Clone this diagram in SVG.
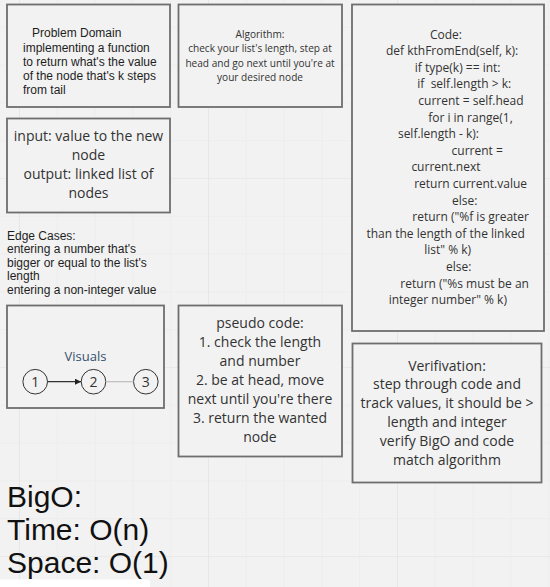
<svg xmlns="http://www.w3.org/2000/svg" width="550" height="587" viewBox="0 0 550 587">
<defs>
<pattern id="minor" x="19" y="-11" width="37.8" height="37.8" patternUnits="userSpaceOnUse">
<path d="M0 0V37.8M0 0H37.8" fill="none" stroke="#e9e9e9" stroke-width="1"/>
</pattern>
<pattern id="major" x="19" y="-11" width="189" height="189" patternUnits="userSpaceOnUse">
<path d="M0 0V189M0 0H189" fill="none" stroke="#e3e3e3" stroke-width="1.2"/>
</pattern>
<marker id="arr" viewBox="0 0 8 8" refX="8" refY="4" markerWidth="6" markerHeight="6" orient="auto" markerUnits="userSpaceOnUse">
<path d="M0 0L8 4L0 8Z" fill="#222"/>
</marker>
<style>
.box{fill:#f2f2f2;stroke:#6e6e6e;stroke-width:1.8}
.ar{font-family:"Liberation Sans",Arial,sans-serif;fill:#1e1e1e}
.os{font-family:"Open Sans","Noto Sans",sans-serif;fill:#333;text-anchor:middle}
.code{font-size:12px}
.big{font-size:14px}
.alg{font-size:10.1px}
.circ{fill:#f2f2f2;stroke:#333;stroke-width:1}
</style>
</defs>
<rect width="550" height="587" fill="#f2f2f2"/>
<rect width="550" height="587" fill="url(#minor)"/>
<rect width="550" height="587" fill="url(#major)"/>

<g id="problem-domain">
<rect class="box" x="7" y="4.5" width="163" height="102.5"/>
<text class="ar" font-size="12"><tspan x="32" y="37">Problem Domain</tspan><tspan x="23" y="51.5">implementing a function</tspan><tspan x="23" y="65.5">to return what's the value</tspan><tspan x="23" y="79.5">of the node that's k steps</tspan><tspan x="23" y="93.5">from tail</tspan></text>
</g>

<g id="algorithm">
<rect class="box" x="178.5" y="4.5" width="163.5" height="102.5"/>
<text class="os alg"><tspan x="260" y="38">Algorithm:</tspan><tspan x="260" y="52.3">check your list's length, step at</tspan><tspan x="260" y="66.6">head and go next until you're at</tspan><tspan x="260" y="80.9">your desired node</tspan></text>
</g>

<g id="code">
<rect class="box" x="352" y="4.5" width="192" height="326.5"/>
<text class="os code">
<tspan x="447.5" y="38.5">Code:</tspan>
<tspan x="453.7" y="55.1">def kthFromEnd(self, k):</tspan>
<tspan x="459.2" y="71.7">if type(k) == int:</tspan>
<tspan x="465.8" y="88.3">if&#160; self.length &gt; k:</tspan>
<tspan x="472.5" y="104.9">current = self.head</tspan>
<tspan x="472" y="121.5">for i in range(1,</tspan>
<tspan x="440" y="138.1">self.length - k):</tspan>
<tspan x="478.8" y="154.7">current =</tspan>
<tspan x="447.5" y="171.3">current.next</tspan>
<tspan x="472.2" y="187.9">return current.value</tspan>
<tspan x="466.2" y="204.5">else:</tspan>
<tspan x="472.2" y="221.1">return ("%f is greater</tspan>
<tspan x="447.2" y="237.7">than the length of the linked</tspan>
<tspan x="449.2" y="254.3">list" % k)</tspan>
<tspan x="460.3" y="270.9">else:</tspan>
<tspan x="466.2" y="287.5">return ("%s must be an</tspan>
<tspan x="447.8" y="304.1">integer number" % k)</tspan>
</text>
</g>

<g id="input-output">
<rect class="box" x="7" y="118.5" width="163" height="94"/>
<text class="os big"><tspan x="88.5" y="141">input: value to the new</tspan><tspan x="88.5" y="159.9">node</tspan><tspan x="88.5" y="178.8">output: linked list of</tspan><tspan x="88.5" y="197.7">nodes</tspan></text>
</g>

<g id="edge-cases">
<text class="ar" font-size="12"><tspan x="7" y="239.5">Edge Cases:</tspan><tspan x="7" y="253">entering a number that's</tspan><tspan x="7" y="266.5">bigger or equal to the list's</tspan><tspan x="7" y="280">length</tspan><tspan x="7" y="293.5">entering a non-integer value</tspan></text>
</g>

<g id="visuals">
<rect class="box" x="7" y="305.5" width="157" height="102.5"/>
<text class="os" font-size="13" x="85.5" y="361" style="fill:#34506e">Visuals</text>
</g>

<g id="node-1">
<circle class="circ" cx="35.2" cy="381.7" r="12.3"/>
<text class="os big" x="35.2" y="386.7">1</text>
</g>
<g id="node-2">
<circle class="circ" cx="93.5" cy="381.7" r="12.3"/>
<text class="os big" x="93.5" y="386.7">2</text>
</g>
<g id="node-3">
<circle class="circ" cx="145.8" cy="381.7" r="12.3"/>
<text class="os big" x="145.8" y="386.7">3</text>
</g>

<g id="connectors">
<line x1="47.5" y1="381.7" x2="81" y2="381.7" stroke="#333" stroke-width="1.2" marker-end="url(#arr)"/>
<line x1="105.8" y1="381.7" x2="133.5" y2="381.7" stroke="#bdbdbd" stroke-width="1.2"/>
</g>

<g id="pseudo-code">
<rect class="box" x="178.5" y="305.5" width="163.5" height="151"/>
<text class="os big"><tspan x="260" y="328.3">pseudo code:</tspan><tspan x="260" y="347.2">1. check the length</tspan><tspan x="260" y="366.1">and number</tspan><tspan x="260" y="385">2. be at head, move</tspan><tspan x="260" y="403.9">next until you're there</tspan><tspan x="260" y="422.8">3. return the wanted</tspan><tspan x="260" y="441.7">node</tspan></text>
</g>

<g id="verification">
<rect class="box" x="352.5" y="343.5" width="189" height="139"/>
<text class="os big"><tspan x="447" y="370.5">Verifivation:</tspan><tspan x="447" y="389.4">step through code and</tspan><tspan x="447" y="408.3">track values, it should be &gt;</tspan><tspan x="447" y="427.2">length and integer</tspan><tspan x="447" y="446.1">verify BigO and code</tspan><tspan x="447" y="465">match algorithm</tspan></text>
</g>

<g id="bigo">
<text class="ar" font-size="30" style="fill:#111"><tspan x="7" y="507.3">BigO:</tspan><tspan x="7" y="540">Time: O(n)</tspan><tspan x="7" y="572.7">Space: O(1)</tspan></text>
</g>

<path d="M0 579.5H147a3 3 0 0 1 3 3V587H0Z" fill="#ffffff"/>
</svg>
